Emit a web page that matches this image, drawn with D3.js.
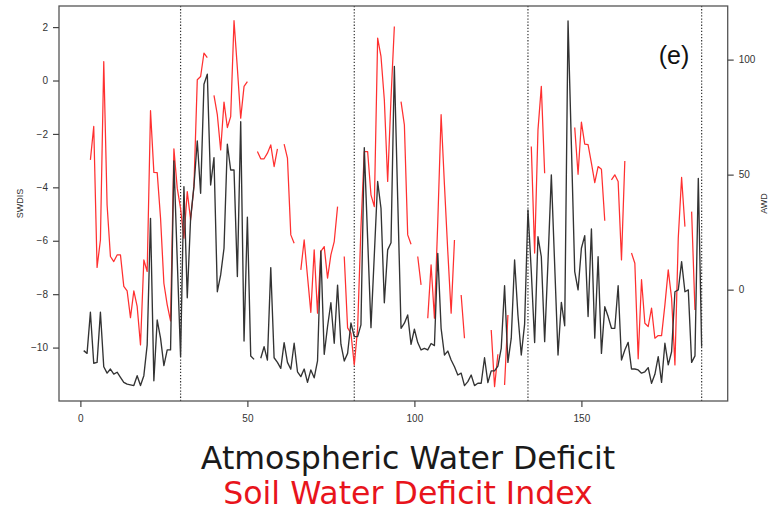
<!DOCTYPE html>
<html>
<head>
<meta charset="utf-8">
<script src="https://cdn.jsdelivr.net/npm/d3@7"></script>
<style>
html,body{margin:0;padding:0;background:#fff;}
svg{display:block;}
</style>
</head>
<body>
<svg id="chart" width="769" height="513"></svg>
<script>
// ---- data ----
const weeks = d3.range(1, 187); // 1..186
const awd = [
-26.5,-27.7,-9.8,-32.0,-31.6,-9.8,-33.5,-36.3,-34.5,-36.7,
-35.9,-38.1,-40.3,-41.1,-41.4,-41.7,-37.4,-41.7,-37.4,-24,
31.0,-39.6,-13.2,-21.1,-33.0,-26.2,-26.2,56.0,13,-29.1,
44.8,-3.5,31.0,45,64.7,41.9,89.3,93.7,45.5,57.4,
-0.9,6.4,18.0,63.2,52.0,52.0,5.7,73.0,-22.3,31.5,
-28.8,-30.3,null,-29.8,-24.8,-30.6,9.6,-29.6,-31.6,-34.2,
-23.0,-31.6,-34.6,-23.3,-35.7,-37.8,-34.5,-40.3,-34.9,-38.3,
-31.0,16.8,-28.1,-16,-5.7,-23.3,2.0,-23.7,-31.0,-27.7,
-14.5,-20.4,-20.4,-15.3,61.7,22.3,-16.5,15.1,47.0,35.4,
-5.7,17.3,20.4,97.0,39.7,-16.8,-14.6,-11.0,-23.8,-17.2,
-23.0,-26.2,-25.5,-26.2,-23.4,-24.3,15.8,-16.8,-28.4,-26.7,
-30.6,-33.5,-37.1,-36.3,-41.7,-40.0,-37.1,-41.7,-40.7,-40.7,
-29.6,-40.4,-35.3,-35.3,-33.2,-25.5,1.7,-31.6,-21.1,12.9,
-11.0,-28.4,-15.0,34.7,7.8,-23.0,23.0,14.3,-22.6,12.2,
49.9,10.7,-28.4,-5.5,-15.7,116.8,62.9,7.8,-0.1,18.0,
23.5,-11.7,26.4,-21.1,14.3,-27.7,-7.4,-11.7,-16.8,-16.8,
1.7,-30.6,-26.2,-22.9,-34.5,-34.5,-34.9,-36.3,-35.7,-33.9,
-40.7,-36.8,-29.1,-40.3,-23.3,-32.7,-27.0,-0.9,-0.1,12.2,
-0.9,-0.1,-31.6,-28.8,48.4,-24.8
];
const swdis = [
null,null,-2.97,-1.72,-7.00,-5.97,0.71,-4.66,-6.59,-6.78,
-6.53,-6.53,-7.71,-7.88,-8.88,-7.88,-8.46,-9.90,-6.72,-7.15,
-1.13,-3.44,-3.45,-5.15,-7.59,-8.40,-9.00,-2.56,-4.03,-4.8,
-5.9,-4.16,-5.22,-3.97,0.03,0.15,1.03,0.86,null,-0.56,
-1.28,-2.60,-0.81,-1.76,-1.35,2.24,0.46,-1.41,-0.22,-0.04,
null,null,-2.66,-2.93,-2.93,-2.72,-2.41,-3.22,-2.56,null,
-2.38,-2.91,-5.78,-6.09,null,-7.09,-5.97,-7.34,-8.68,-6.34,
-8.71,-6.40,-6.22,-7.40,-6.53,-6.03,-4.72,null,-6.59,-9.26,
-9.46,-10.65,-9.3,-5.5,-2.66,-2.66,-4.28,-4.72,1.59,0.90,
-0.72,-3.78,-0.66,2.02,null,-0.79,-1.66,-5.78,-6.13,null,
-6.59,-7.65,null,-8.90,-6.90,-8.90,-5.3,-1.28,-3.91,-6.40,
-8.71,-5.97,null,-8.03,-9.65,null,null,null,null,null,
null,null,-9.34,-11.46,-10.25,null,-11.40,-8.78,null,null,
null,null,null,null,-2.47,-6.46,-1.85,-0.22,-3.47,null,
null,null,null,null,null,null,null,-1.76,-3.51,-1.56,
-2.38,-2.40,-3.09,-3.82,-3.22,-3.32,-5.25,null,-3.72,-3.53,
-3.78,-6.72,-3.01,null,-6.46,-6.84,-10.42,-7.46,-9.09,-9.21,
-8.52,-9.65,-9.55,-9.55,-8.40,-7.09,-8.15,-10.65,-5.9,-3.63,
-5.47,null,-4.91,-8.59,null,null
];
const yearBreaks = [30, 82, 134, 186];
const xTicks = [0, 50, 100, 150];
const leftTicks = [2, 0, -2, -4, -6, -8, -10];
const rightTicks = [0, 50, 100];
const panelLabel = "(e)";
const leftLabel = "SWDIS";
const rightLabel = "AWD";
const legendLabels = ["Atmospheric Water Deficit", "Soil Water Deficit Index"];

// ---- layout ----
const svg = d3.select("#chart");
const L = 59, R = 727.7, T = 6, B = 401;

const x = d3.scaleLinear().domain([-6.4, 193.8]).range([L, R]);
const yL = d3.scaleLinear().domain([-12.0, 2.79]).range([B, T]);
const yR = d3.scaleLinear().domain([-48.4, 123.3]).range([B, T]);

const axisColor = "#444";
const tickFont = "Liberation Sans, Arial, Helvetica, sans-serif";

// dotted year separators
svg.append("g").selectAll("line").data(yearBreaks).join("line")
  .attr("x1", d => x(d)).attr("x2", d => x(d))
  .attr("y1", T).attr("y2", B)
  .attr("stroke", "#333").attr("stroke-width", 1.2)
  .attr("stroke-dasharray", "1.3,1.8");

// lines
const idx = weeks.map((w, i) => i);
const lineAWD = d3.line()
  .defined(i => awd[i] != null)
  .x(i => x(weeks[i])).y(i => yR(awd[i]));
const lineSW = d3.line()
  .defined(i => swdis[i] != null)
  .x(i => x(weeks[i])).y(i => yL(swdis[i]));

svg.append("path").attr("d", lineSW(idx))
  .attr("fill", "none").attr("stroke", "#ff3030")
  .attr("stroke-width", 1.25).attr("stroke-linejoin", "round");
svg.append("path").attr("d", lineAWD(idx))
  .attr("fill", "none").attr("stroke", "#333")
  .attr("stroke-width", 1.35).attr("stroke-linejoin", "round");

// box
svg.append("rect").attr("x", L).attr("y", T)
  .attr("width", R - L).attr("height", B - T)
  .attr("fill", "none").attr("stroke", "#555").attr("stroke-width", 1.3);

// axes
function styleAxis(g) {
  g.select(".domain").remove();
  g.selectAll(".tick line").attr("stroke", axisColor).attr("stroke-width", 1.2);
  g.selectAll(".tick text").attr("fill", "#333")
    .attr("font-family", tickFont).attr("font-size", "10px");
}
svg.append("g").attr("transform", `translate(${L},0)`)
  .call(d3.axisLeft(yL).tickValues(leftTicks).tickSize(6).tickPadding(5))
  .call(styleAxis);
svg.append("g").attr("transform", `translate(${R},0)`)
  .call(d3.axisRight(yR).tickValues(rightTicks).tickSize(6).tickPadding(5))
  .call(styleAxis);
svg.append("g").attr("transform", `translate(0,${B})`)
  .call(d3.axisBottom(x).tickValues(xTicks).tickSize(6).tickPadding(8))
  .call(styleAxis);

// axis titles
svg.append("text").attr("transform", `translate(23,${(T + B) / 2}) rotate(-90)`)
  .attr("text-anchor", "middle").attr("font-family", tickFont)
  .attr("font-size", "9px").attr("fill", "#333").text(leftLabel);
svg.append("text").attr("transform", `translate(767,${(T + B) / 2}) rotate(-90)`)
  .attr("text-anchor", "middle").attr("font-family", tickFont)
  .attr("font-size", "9px").attr("fill", "#333").text(rightLabel);

// panel label
svg.append("text").attr("x", 674).attr("y", 64)
  .attr("text-anchor", "middle").attr("font-family", tickFont)
  .attr("font-size", "25px").attr("fill", "#111").text(panelLabel);

// legend text
const legFont = "DejaVu Sans, Verdana, sans-serif";
svg.append("text").attr("x", 408).attr("y", 469)
  .attr("text-anchor", "middle").attr("font-family", legFont)
  .attr("font-size", "31.6px").attr("fill", "#1a1a1a").text(legendLabels[0]);
svg.append("text").attr("x", 408).attr("y", 504)
  .attr("text-anchor", "middle").attr("font-family", legFont)
  .attr("font-size", "31.6px").attr("fill", "#e8141c").text(legendLabels[1]);
</script>
</body>
</html>
